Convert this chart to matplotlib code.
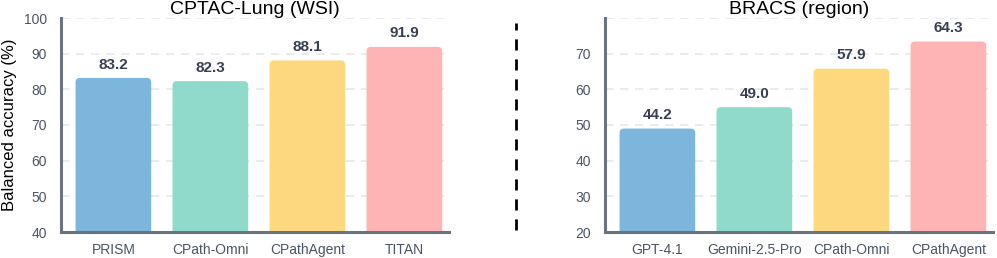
import numpy as np
import matplotlib.pyplot as plt
from matplotlib.patches import FancyBboxPatch
from matplotlib.lines import Line2D

# CPTAC-Lung (WSI)
cptac_models = ["PRISM", "CPath-Omni", "CPathAgent", "TITAN"]
cptac_values = [83.2, 82.3, 88.1, 91.9]
cptac_labels = ["83.2", "82.3", "88.1", "91.9"]

# BRACS (region) -- bar heights as drawn, labels as printed
bracs_models = ["GPT-4.1", "Gemini-2.5-Pro", "CPath-Omni", "CPathAgent"]
bracs_values = [49.0, 55.0, 65.8, 73.4]
bracs_labels = ["44.2", "49.0", "57.9", "64.3"]

colors = ["#7db6dc", "#8fdacb", "#fdd87e", "#feb3b4"]
spine_col = "#6b7280"
tick_col = "#4b5563"
label_col = "#374151"

plt.rcParams['font.family'] = ['Liberation Sans', 'DejaVu Sans']

fig = plt.figure(figsize=(9.97, 2.58), dpi=100)
W, H = 997, 258


def panel(left_px, values, labels, models, ylim, yticks, title, ylabel=None):
    ax = fig.add_axes([left_px / W, (H - 232) / H, 388 / W, 214 / H])
    ax.set_xlim(-0.54, 3.46)
    ax.set_ylim(*ylim)
    x = np.arange(len(values))
    bars = ax.bar(x, np.array(values) - ylim[0] + 5, bottom=ylim[0] - 5,
                  width=0.78, color=colors)
    # swap plain bars for rounded ones
    px_x = 388 / (3.46 + 0.54)
    px_y = 214 / (ylim[1] - ylim[0])
    for b, c in zip(bars, colors):
        b.set_visible(False)
        rp = FancyBboxPatch((b.get_x(), b.get_y()), b.get_width(), b.get_height(),
                            boxstyle="round,pad=0,rounding_size=0.045",
                            mutation_aspect=px_x / px_y,
                            facecolor=c, edgecolor="none", zorder=2)
        ax.add_patch(rp)
    for xi, v, lab in zip(x, values, labels):
        ax.text(xi, v + (ylim[1] - ylim[0]) * 0.03, lab, ha="center", va="bottom",
                fontsize=11, fontweight="bold", color=label_col)
    grid_ticks = np.arange(ylim[0] + 10, ylim[1] + 1, 10)
    for g in grid_ticks:
        ax.axhline(g, color="#e5e7eb", lw=1.2, ls=(0, (5, 4)), zorder=0)
    ax.set_yticks(yticks)
    ax.set_xticks(x)
    ax.set_xticklabels(models)
    ax.tick_params(axis="both", length=0, labelsize=10, colors=tick_col)
    ax.tick_params(axis="y", pad=10)
    ax.tick_params(axis="x", pad=8)
    for s in ["top", "right"]:
        ax.spines[s].set_visible(False)
    for s in ["left", "bottom"]:
        ax.spines[s].set_color(spine_col)
        ax.spines[s].set_linewidth(2.2)
        ax.spines[s].set_zorder(3)
    ax.set_title(title, fontsize=14, pad=-0.5)
    if ylabel:
        ax.set_ylabel(ylabel, fontsize=12, labelpad=5)
    return ax


panel(61, cptac_values, cptac_labels, cptac_models, (40, 100),
      np.arange(40, 101, 10), "CPTAC-Lung (WSI)", "Balanced accuracy (%)")
panel(605, bracs_values, bracs_labels, bracs_models, (20, 80),
      np.arange(20, 71, 10), "BRACS (region)")

# dashed separator between panels
fig.add_artist(Line2D([516 / W, 516 / W], [(H - 230) / H, (H - 23) / H],
                      color="black", lw=2, ls=(0, (4, 3.2))))

fig.savefig("out.png", dpi=100)
